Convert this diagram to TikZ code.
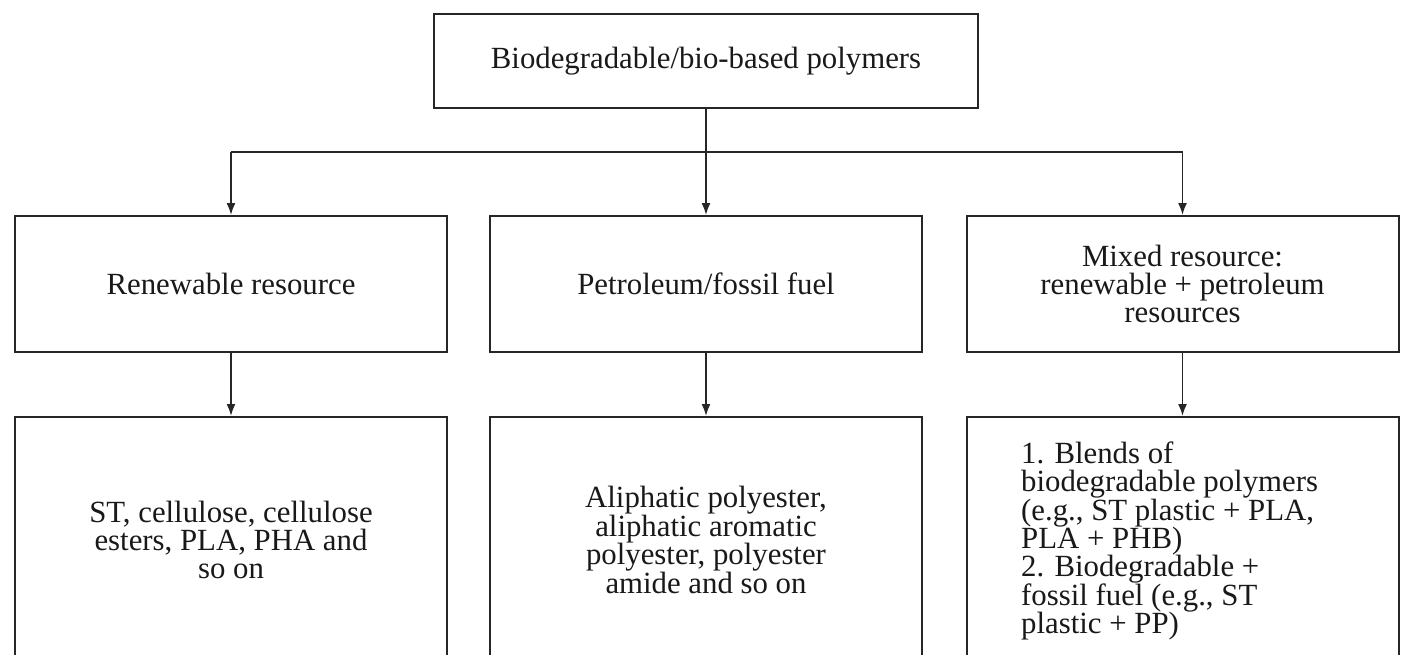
\documentclass[tikz,border=0pt]{standalone}
\usepackage{fontspec}
\setmainfont{Liberation Serif}
\usetikzlibrary{arrows.meta}
\begin{document}
\begin{tikzpicture}[x=1pt,y=-1pt,
  box/.style={draw=black!85, line width=2pt, rectangle, inner sep=0pt, align=center,
    text=black!90, font=\fontsize{30.8}{28.4}\selectfont},
  conn/.style={line width=1.8pt, draw=black!85},
  arr/.style={conn, -{Latex[length=12pt,width=9pt]}},
  txt/.style={inner sep=0pt, text=black!90, font=\fontsize{30.8}{28.4}\selectfont}]
\useasboundingbox (0,0) rectangle (1403,654);
\fill[white] (0,0) rectangle (1403,654);
% top
\node[box, minimum width=544pt, minimum height=94pt] (top) at (706,61) {Biodegradable/bio-based polymers};
% middle row
\node[box, minimum width=432pt, minimum height=136pt] (m1) at (231,284) {Renewable resource};
\node[box, minimum width=432pt, minimum height=136pt] (m2) at (706,284) {Petroleum/fossil fuel};
\node[box, minimum width=432pt, minimum height=136pt] (m3) at (1182.5,284) {Mixed resource:\\renewable + petroleum\\resources};
% bottom row (cut by the lower edge)
\node[box, minimum width=432pt, minimum height=246pt] (b1) at (231,540) {ST, cellulose, cellulose\\esters, PLA, PHA and\\so on};
\node[box, minimum width=432pt, minimum height=246pt] (b2) at (706,540) {Aliphatic polyester,\\aliphatic aromatic\\polyester, polyester\\amide and so on};
\node[box, minimum width=432pt, minimum height=246pt] (b3) at (1182.5,540) {};
\node[txt, anchor=west, align=left] (t3) at (1021,541) {1. Blends of\\biodegradable polymers\\(e.g., ST plastic + PLA,\\PLA + PHB)\\2. Biodegradable +\\fossil fuel (e.g., ST\\plastic + PP)};
% connectors
\coordinate (bus) at (706,152);
\draw[arr] (top.south) -- (m2.north);
\draw[conn] (bus -| m1.north) -- (bus -| m3.north);
\draw[arr] (bus -| m1.north) -- (m1.north);
\draw[arr] (bus -| m3.north) -- (m3.north);
\draw[arr] (m1.south) -- (b1.north);
\draw[arr] (m2.south) -- (b2.north);
\draw[arr] (m3.south) -- (b3.north);
\end{tikzpicture}
\end{document}
